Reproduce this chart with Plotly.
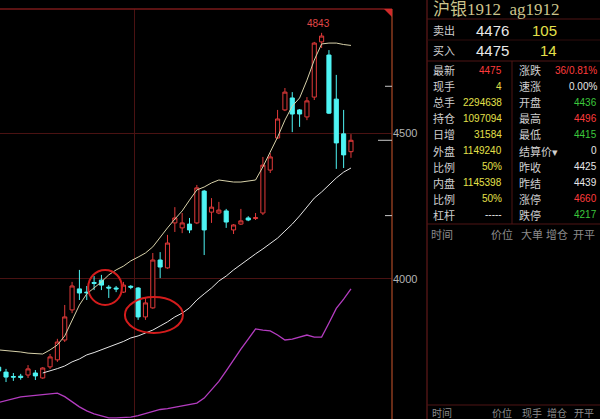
import plotly.graph_objects as go

W, H = 600, 419

# ---- daily bars of 沪银1912 (ag1912) ----
opens = [3698, 3681, 3666, 3667, 3671, 3678, 3661, 3699, 3723, 3791, 3894, 3966, 3955, 3988, 3996,
         3972, 3969, 3955, 3975, 3969, 3870, 3901, 4065, 4038, 4192, 4175, 4188, 4192, 4301, 4229,
         4226, 4233, 4168, 4188, 4209, 4207, 4226, 4373, 4483, 4579, 4620, 4579, 4555, 4623, 4812,
         4767, 4616, 4497, 4436]
highs = [3709, 3692, 3678, 3675, 3705, 3688, 3698, 3743, 3795, 3911, 3990, 4031, 3976, 4010, 4014,
         3979, 3976, 3990, 3979, 3972, 3938, 4089, 4092, 4151, 4246, 4226, 4209, 4322, 4305, 4277,
         4264, 4240, 4188, 4240, 4215, 4226, 4418, 4431, 4579, 4654, 4640, 4582, 4623, 4812, 4843,
         4784, 4699, 4579, 4496]
lows = [3675, 3647, 3651, 3655, 3661, 3654, 3658, 3692, 3716, 3784, 3883, 3928, 3928, 3962, 3962,
        3935, 3955, 3952, 3965, 3860, 3860, 3898, 4003, 4035, 4161, 4157, 4157, 4188, 4082, 4192,
        4222, 4175, 4154, 4185, 4198, 4202, 4219, 4363, 4480, 4575, 4503, 4521, 4544, 4613, 4791,
        4565, 4377, 4380, 4415]
closes = [3685, 3664, 3664, 3663, 3692, 3668, 3695, 3733, 3784, 3870, 3976, 3952, 3953, 3985, 3979,
          3969, 3966, 3979, 3972, 3870, 3918, 4065, 4041, 4123, 4209, 4192, 4168, 4312, 4168, 4246,
          4236, 4195, 4185, 4199, 4202, 4210, 4390, 4418, 4548, 4640, 4565, 4565, 4610, 4808, 4832,
          4568, 4466, 4425, 4475]

# fast average (pale yellow)
ma_fast = [3757, 3755, 3753, 3750, 3746, 3745, 3743, 3757, 3774, 3805, 3856, 3911, 3949, 3969, 3990,
           4014, 4031, 4044, 4062, 4075, 4089, 4110, 4144, 4175, 4205, 4233, 4270, 4305, 4315, 4329,
           4339, 4336, 4332, 4332, 4336, 4339, 4384, 4435, 4486, 4544, 4592, 4620, 4681, 4750, 4805,
           4808, 4808, 4803, 4800]
# slow average (white), starts at the 7th session
ma_slow = [3678, 3685, 3693, 3702, 3716, 3726, 3740, 3748, 3757, 3767, 3776, 3786, 3798, 3805, 3815,
           3825, 3839, 3853, 3870, 3883, 3901, 3928, 3949, 3969, 3993, 4010, 4031, 4050, 4068, 4086,
           4103, 4120, 4140, 4164, 4188, 4216, 4247, 4277, 4298, 4322, 4346, 4366, 4380]
# long average (magenta)
ma_long = [3577, 3584, 3591, 3596, 3599, 3601, 3604, 3606, 3609, 3597, 3579, 3562, 3548, 3538, 3531,
           3524, 3524, 3526, 3527, 3532, 3539, 3548, 3553, 3556, 3561, 3565, 3570, 3575, 3592, 3620,
           3649, 3685, 3723, 3760, 3794, 3829, 3825, 3822, 3808, 3791, 3794, 3800, 3808, 3801, 3801,
           3849, 3899, 3931, 3966]

sessions = list(range(len(opens)))
slow_sessions = sessions[len(sessions) - len(ma_slow):]

price_ticks = [4000, 4500]

# ---- quote panel ----
quote_name, quote_code = "沪银1912", "ag1912"
ask_price, ask_vol = 4476, 105
bid_price, bid_vol = 4475, 14
last_price = 4475
limit_up, limit_down = 4660, 4217
RED, GREEN, YEL, WHT = "#ff3c3c", "#3cc83c", "#e4e04a", "#e8e8e8"
left_labels = ["最新", "现手", "总手", "持仓", "日增", "外盘", "比例", "内盘", "比例", "杠杆"]
left_values = [str(last_price), "4", "2294638", "1097094", "31584", "1149240", "50%", "1145398", "50%", "-----"]
left_colors = [RED, YEL, YEL, YEL, YEL, YEL, YEL, YEL, YEL, WHT]
right_labels = ["涨跌", "速涨", "开盘", "最高", "最低", "结算价▾", "昨收", "昨结", "涨停", "跌停"]
right_values = ["36/0.81%", "0.00%", "4436", "4496", "4415", "0", "4425", "4439", str(limit_up), str(limit_down)]
right_colors = [RED, WHT, GREEN, RED, GREEN, WHT, WHT, WHT, RED, GREEN]
tape_headers = ["时间", "价位", "大单", "增仓", "开平"]
tape_headers2 = ["时间", "价位", "现手", "增仓", "开平"]


def fx(p):
    return p / W


def fy(p):
    return 1 - p / H


CJK = "Noto Sans CJK SC"
NUM = "Liberation Sans"

fig = go.Figure()

fig.add_trace(go.Candlestick(
    x=sessions, open=opens, high=highs, low=lows, close=closes,
    increasing=dict(line=dict(color="#e23a3a", width=1), fillcolor="#000000"),
    decreasing=dict(line=dict(color="#4ef4f4", width=1), fillcolor="#4ef4f4"),
    whiskerwidth=0, hoverinfo="skip", showlegend=False,
))
fig.add_trace(go.Scatter(x=sessions, y=ma_fast, mode="lines",
                         line=dict(color="#d8d2aa", width=1), hoverinfo="skip", showlegend=False))
fig.add_trace(go.Scatter(x=slow_sessions, y=ma_slow, mode="lines",
                         line=dict(color="#e6e6e6", width=1), hoverinfo="skip", showlegend=False))
fig.add_trace(go.Scatter(x=sessions, y=ma_long, mode="lines",
                         line=dict(color="#b43cc0", width=1.3), hoverinfo="skip", showlegend=False))

# label for the highest price of the window
hi_idx = highs.index(max(highs))
ann = [dict(x=sessions[hi_idx], y=highs[hi_idx], xref="x", yref="y", text=str(highs[hi_idx]),
            showarrow=False, yanchor="bottom", yshift=2, xshift=-3,
            font=dict(family=NUM, size=10, color="#e04848"))]

shapes = []
# hand-drawn style marker rings
shapes.append(dict(type="circle", xref="x", yref="y", x0=12.2, x1=16.8, y0=3911, y1=4031,
                   line=dict(color="#d41c1c", width=2)))
shapes.append(dict(type="circle", xref="x", yref="y", x0=17.2, x1=25.1, y0=3815, y1=3938,
                   line=dict(color="#d41c1c", width=2)))

# chart frame
shapes.append(dict(type="line", xref="paper", yref="paper", x0=0, x1=fx(392), y0=fy(9), y1=fy(9),
                   line=dict(color="#7a1a1a", width=1.5)))
shapes.append(dict(type="line", xref="paper", yref="paper", x0=fx(392), x1=fx(392), y0=0, y1=fy(9),
                   line=dict(color="#8a3a1e", width=1.5)))
shapes.append(dict(type="path", xref="paper", yref="paper",
                   path=f"M {fx(384)},{fy(9)} L {fx(392)},{fy(9)} L {fx(392)},{fy(17)} Z",
                   fillcolor="#d02a2a", line=dict(width=0)))
# axis marks for limit-up, last price and limit-down
for val, x0 in [(limit_up, 385), (last_price, 378), (limit_down, 385)]:
    shapes.append(dict(type="line", xref="paper", yref="y", x0=fx(x0), x1=fx(392), y0=val, y1=val,
                       line=dict(color="#c8c8c8", width=1)))

# quote panel borders and separators
PANEL = "#4e1414"
shapes.append(dict(type="line", xref="paper", yref="paper", x0=fx(427), x1=fx(427), y0=0, y1=1,
                   line=dict(color=PANEL, width=1.5)))
for yy, col in [(19, PANEL), (40, "#2e0c0c"), (61, PANEL), (224, PANEL), (405, PANEL)]:
    shapes.append(dict(type="line", xref="paper", yref="paper", x0=fx(427), x1=1, y0=fy(yy), y1=fy(yy),
                       line=dict(color=col, width=1.2)))
shapes.append(dict(type="line", xref="paper", yref="paper", x0=fx(512), x1=fx(512), y0=fy(224), y1=fy(61),
                   line=dict(color=PANEL, width=1)))


def txt(x, y, s, color, size, family, anchor="left"):
    ann.append(dict(x=fx(x), y=fy(y), xref="paper", yref="paper", text=s, showarrow=False,
                    xanchor=anchor, yanchor="middle", font=dict(family=family, size=size, color=color)))


txt(431, 9, f"{quote_name}  {quote_code}", "#ccc48c", 17, "Liberation Serif, " + CJK)
txt(431, 30, "卖出", "#cfcfcf", 11, CJK)
txt(511, 30, str(ask_price), WHT, 15, NUM, "right")
txt(559, 30, str(ask_vol), YEL, 15, NUM, "right")
txt(431, 50, "买入", "#cfcfcf", 11, CJK)
txt(511, 50, str(bid_price), WHT, 15, NUM, "right")
txt(559, 50, str(bid_vol), YEL, 15, NUM, "right")

for j in range(len(left_labels)):
    yy = 70 + 16.1 * j
    txt(431, yy, left_labels[j], "#cfcfcf", 11, CJK)
    txt(504, yy, left_values[j], left_colors[j], 10, NUM, "right")
    txt(517, yy, right_labels[j], "#cfcfcf", 11, CJK)
    txt(599, yy, right_values[j], right_colors[j], 10, NUM, "right")

for name, xc in zip(tape_headers, [442, 502, 532, 557, 584]):
    txt(xc, 234, name, "#8c8c8c", 11, CJK, "center")
for name, xc in zip(tape_headers2, [442, 502, 532, 557, 584]):
    txt(xc, 412, name, "#8c8c8c", 10, CJK, "center")

fig.update_layout(
    width=W, height=H,
    margin=dict(l=0, r=0, t=0, b=0),
    paper_bgcolor="#000000", plot_bgcolor="#000000",
    boxgap=0.2,
    showlegend=False,
    annotations=ann, shapes=shapes,
    xaxis=dict(domain=[0, fx(392)], range=[0.18, 53.59], rangeslider=dict(visible=False),
               tickvals=[18.44], showticklabels=False, showgrid=True, gridcolor="#4a1212",
               gridwidth=1, zeroline=False, showline=False, fixedrange=True),
    yaxis=dict(domain=[0, fy(9)], range=[3520.4, 4924.7], side="right", tickvals=price_ticks,
               tickfont=dict(family=NUM, size=11, color="#b4b4b4"), showgrid=True,
               gridcolor="#4a1212", gridwidth=1, zeroline=False, showline=False, fixedrange=True),
)

fig.write_html("out.html", config={"displayModeBar": False})
